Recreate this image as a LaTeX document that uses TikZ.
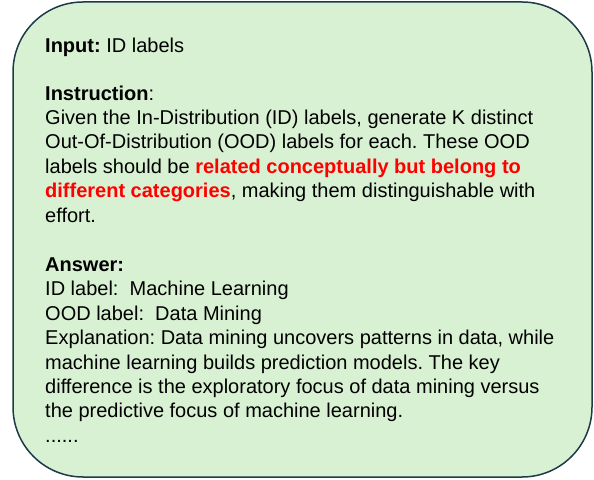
\documentclass[tikz,border=0pt]{standalone}
\usepackage{fontspec}
\setmainfont{Liberation Sans}
\usetikzlibrary{positioning}
\definecolor{cardfill}{HTML}{D9F1D3}
\definecolor{cardline}{HTML}{1E3A4A}
\tikzset{card/.style={draw=cardline,fill=cardfill,line width=1.5pt,rounded corners=70pt},
  prompt text/.style={align=left,inner sep=0pt,anchor=north west,font=\fontsize{20}{24.4}\selectfont\frenchspacing}}
\newcommand{\hlred}[1]{\textcolor{red}{\textbf{#1}}}

\begin{document}
\begin{tikzpicture}[x=1pt,y=1pt]
  \useasboundingbox (0,0) rectangle (594,479);
  \draw[card] (13,2) rectangle (592,477);
  % three blocks, tops set from the first baselines
  \node[prompt text] (input) at (45,441.4) {\textbf{Input:} ID labels};
  \node[prompt text] (instr) at (45,393.5) {\textbf{Instruction}:\\
    Given the In-Distribution (ID) labels, generate K distinct\\
    Out-Of-Distribution (OOD) labels for each. These OOD\\
    labels should be \hlred{related conceptually but belong to}\\
    \hlred{different categories}, making them distinguishable with\\
    effort.};
  \node[prompt text] (answer) at (45,221.5) {\textbf{Answer:}\\
    ID label:\ \ Machine Learning\\
    OOD label:\ \ Data Mining\\
    Explanation: Data mining uncovers patterns in data, while\\
    machine learning builds prediction models. The key\\
    difference is the exploratory focus of data mining versus\\
    the predictive focus of machine learning.\\
    ......};
\end{tikzpicture}
\end{document}
